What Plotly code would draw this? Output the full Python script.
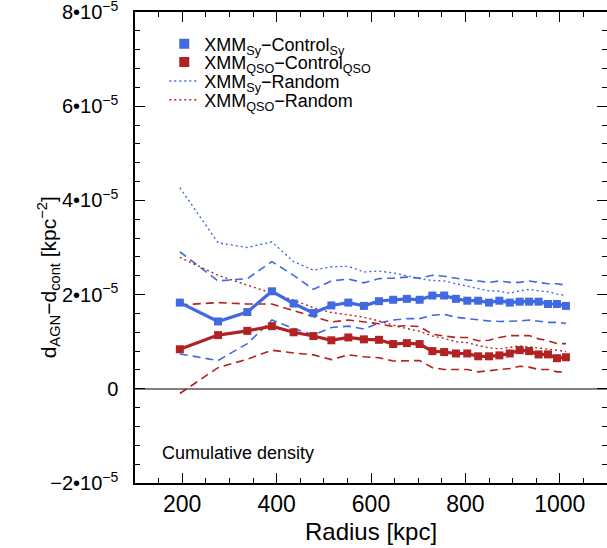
import plotly.graph_objects as go

# Radii of the annuli (kpc)
radius = [195, 276, 338, 390, 436, 478, 516, 552, 585, 617, 647, 676, 703, 730,
          755, 780, 804, 827, 850, 872, 894, 915, 935, 955, 975, 994, 1013]

# values in units of 1e-5 kpc^-2
sy_control = [1.83, 1.43, 1.63, 2.07, 1.81, 1.61, 1.77, 1.83, 1.76, 1.86, 1.89, 1.91, 1.89, 1.98,
              1.98, 1.91, 1.87, 1.87, 1.83, 1.87, 1.83, 1.85, 1.85, 1.85, 1.80, 1.80, 1.76]
sy_upper = [2.91, 2.29, 2.34, 2.70, 2.41, 2.11, 2.29, 2.33, 2.25, 2.34, 2.35, 2.37, 2.35, 2.41,
            2.39, 2.35, 2.31, 2.29, 2.26, 2.29, 2.26, 2.26, 2.29, 2.26, 2.23, 2.23, 2.20]
sy_lower = [0.74, 0.60, 0.96, 1.46, 1.28, 1.14, 1.30, 1.33, 1.27, 1.40, 1.46, 1.49, 1.49, 1.56,
            1.58, 1.52, 1.49, 1.46, 1.44, 1.43, 1.43, 1.44, 1.46, 1.43, 1.41, 1.41, 1.39]

qso_control = [0.84, 1.14, 1.23, 1.33, 1.20, 1.12, 1.03, 1.09, 1.05, 1.04, 0.95, 0.97, 0.95, 0.80,
               0.78, 0.75, 0.75, 0.69, 0.69, 0.71, 0.75, 0.82, 0.80, 0.73, 0.73, 0.65, 0.67]
qso_upper = [1.78, 1.83, 1.80, 1.80, 1.66, 1.53, 1.42, 1.46, 1.42, 1.38, 1.32, 1.34, 1.32, 1.16,
             1.12, 1.09, 1.09, 1.02, 1.03, 1.09, 1.13, 1.13, 1.13, 1.06, 1.02, 0.96, 0.96]
qso_lower = [-0.10, 0.45, 0.63, 0.82, 0.76, 0.72, 0.62, 0.72, 0.68, 0.66, 0.59, 0.60, 0.60, 0.45,
             0.41, 0.41, 0.41, 0.36, 0.38, 0.40, 0.43, 0.48, 0.46, 0.41, 0.41, 0.36, 0.36]

sy_random = [4.27, 3.10, 3.00, 3.12, 2.70, 2.52, 2.59, 2.60, 2.48, 2.50, 2.46, 2.39, 2.34, 2.30,
             2.29, 2.23, 2.18, 2.13, 2.08, 2.07, 2.03, 2.08, 2.11, 2.08, 2.06, 2.01, 1.98]
qso_random = [2.79, 2.41, 2.20, 2.03, 1.88, 1.72, 1.62, 1.57, 1.52, 1.44, 1.35, 1.28, 1.22, 1.12,
              1.07, 1.00, 0.98, 0.92, 0.87, 0.85, 0.88, 0.91, 0.89, 0.86, 0.84, 0.82, 0.79]

scale = 1e-5
def s(v):
    return [a * scale for a in v]

ytick_vals = [-2, 0, 2, 4, 6, 8]
ytick_text = ["\u22122\u202210<sup>\u22125</sup>", "0", "2\u202210<sup>\u22125</sup>",
              "4\u202210<sup>\u22125</sup>", "6\u202210<sup>\u22125</sup>", "8\u202210<sup>\u22125</sup>"]
xtick_vals = [200, 400, 600, 800, 1000]

BLUE = "#4169E1"
RED = "#B22222"
FONT = "Liberation Sans, Arial, Helvetica, sans-serif"

fig = go.Figure()

dash_pat = "8px,5px"
dot_pat = "2px,3px"

# dashed bounds
for yv, col in [(sy_upper, BLUE), (sy_lower, BLUE), (qso_upper, RED), (qso_lower, RED)]:
    fig.add_trace(go.Scatter(x=radius, y=s(yv), mode="lines", showlegend=False,
                             line=dict(color=col, width=1.6, dash=dash_pat)))

# random (dotted)
fig.add_trace(go.Scatter(x=radius, y=s(sy_random), mode="lines",
                         name="XMM<sub>Sy</sub>\u2212Random", legend="legend3",
                         line=dict(color=BLUE, width=1.4, dash=dot_pat)))
fig.add_trace(go.Scatter(x=radius, y=s(qso_random), mode="lines",
                         name="XMM<sub>QSO</sub>\u2212Random", legend="legend4",
                         line=dict(color=RED, width=1.4, dash=dot_pat)))

# main series
fig.add_trace(go.Scatter(x=radius, y=s(sy_control), mode="lines+markers", showlegend=False,
                         line=dict(color=BLUE, width=3.2),
                         marker=dict(symbol="square", size=8, color=BLUE)))
fig.add_trace(go.Scatter(x=radius, y=s(qso_control), mode="lines+markers", showlegend=False,
                         line=dict(color=RED, width=3.2),
                         marker=dict(symbol="square", size=8, color=RED)))
# legend entries for main series
fig.add_trace(go.Scatter(x=[None], y=[None], mode="markers", legend="legend",
                         name="XMM<sub>Sy</sub>\u2212Control<sub>Sy</sub>",
                         marker=dict(symbol="square", size=10, color=BLUE)))
fig.add_trace(go.Scatter(x=[None], y=[None], mode="markers", legend="legend2",
                         name="XMM<sub>QSO</sub>\u2212Control<sub>QSO</sub>",
                         marker=dict(symbol="square", size=10, color=RED)))

fig.add_annotation(text="Cumulative density", x=0.053, y=0.064, xref="paper", yref="paper",
                   xanchor="left", yanchor="middle", showarrow=False,
                   font=dict(size=18, color="black", family=FONT))

# axis titles as annotations
fig.add_annotation(text="Radius [kpc]", x=0.5, y=-0.102, xref="paper", yref="paper",
                   xanchor="center", yanchor="middle", showarrow=False,
                   font=dict(size=24, color="black", family=FONT))
fig.add_annotation(text="d<sub>AGN</sub>\u2212d<sub>cont</sub> [kpc<sup>\u22122</sup>]",
                   x=-0.184, y=0.437, xref="paper", yref="paper", textangle=-90,
                   xanchor="center", yanchor="middle", showarrow=False,
                   font=dict(size=21, color="black", family=FONT))

leg_common = dict(xanchor="left", yanchor="middle", bgcolor="rgba(0,0,0,0)",
                  font=dict(size=18, family=FONT, color="black"), itemwidth=30,
                  borderwidth=0)
legend_x = 0.062
fig.update_layout(
    width=607, height=548,
    margin=dict(l=135, r=0, t=12, b=65, autoexpand=False),
    paper_bgcolor="white", plot_bgcolor="white",
    font=dict(family=FONT, color="black", size=20),
    showlegend=True,
    legend=dict(x=legend_x, y=0.932, **leg_common),
    legend2=dict(x=legend_x, y=0.893, **leg_common),
    legend3=dict(x=legend_x, y=0.853, **leg_common),
    legend4=dict(x=legend_x, y=0.813, **leg_common),
)

fig.update_xaxes(
    range=[100, 1100], tickvals=xtick_vals, ticks="inside", ticklen=10, tickwidth=1.2,
    tickcolor="black", showline=True, linecolor="black", linewidth=1.5, mirror="allticks",
    showgrid=False, zeroline=False, automargin=False, ticklabelstandoff=0,
    ticklabeloverflow="allow",
    minor=dict(dtick=50, tick0=100, ticks="inside", ticklen=5, tickcolor="black", tickwidth=1, showgrid=False),
    tickfont=dict(size=23),
)
fig.update_yaxes(
    range=[-2e-5, 8e-5], tickvals=[v * scale for v in ytick_vals], ticktext=ytick_text,
    ticks="inside", ticklen=10, tickwidth=1.2, tickcolor="black",
    showline=True, linecolor="black", linewidth=1.5, mirror="allticks",
    showgrid=False, zeroline=True, zerolinecolor="#808080", zerolinewidth=1.8,
    automargin=False, ticklabelstandoff=11, ticklabeloverflow="allow",
    minor=dict(dtick=0.4e-5, tick0=0, ticks="inside", ticklen=5, tickcolor="black", tickwidth=1, showgrid=False),
    tickfont=dict(size=20),
)

fig.write_html("out.html", config={"displayModeBar": False},
               post_script="document.body.style.margin='0';")
